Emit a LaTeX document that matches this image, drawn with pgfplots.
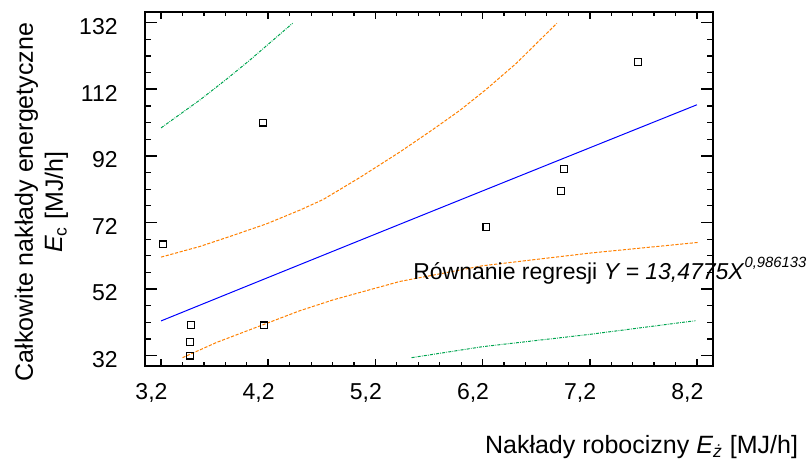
\documentclass[border=0pt]{standalone}
\usepackage{pgfplots}
\pgfplotsset{compat=1.18}
\usepackage{fontspec}
\setmainfont{Liberation Sans}
\definecolor{cblue}{RGB}{0,0,255}
\definecolor{corange}{RGB}{255,128,0}
\definecolor{cgreen}{RGB}{0,165,80}
\begin{document}
\begin{tikzpicture}
\useasboundingbox (-72.5pt,-46.5pt) rectangle (331pt,183pt);
\pgfplotsset{
  common/.style={
    at={(0,0)}, anchor=south west,
    scale only axis, width=284pt, height=177pt,
    xmin=3.05, xmax=8.35, ymin=28.9, ymax=135.2,
    axis line style={line width=1pt},
    tick align=inside,
    every tick/.style={black, line width=0.8pt},
    minor tick style={line width=0.6pt},
    /pgf/number format/assume math mode=true,
    tick label style={font=\fontsize{11.5}{13}\selectfont},
  }
}
% x ticks axis
\begin{axis}[common,
  xtick={3.2,4.2,5.2,6.2,7.2,8.2},
  xticklabels={{3,2},{4,2},{5,2},{6,2},{7,2},{8,2}},
  minor x tick num=4,
  ytick=\empty,
  major tick length=3.5pt, minor tick length=2pt,
  xticklabel style={anchor=north, inner sep=0pt, yshift=-8.5pt, xshift=-4.8pt},
  xlabel={Nakłady robocizny \textit{E}\textsubscript{\textit{ż}} [MJ/h]},
  xlabel style={at={(axis description cs:1.162,-0.2458)}, anchor=base east, font=\fontsize{12.5}{15}\selectfont},
]
\end{axis}
% main axis with y ticks and data
\begin{axis}[common,
  xtick=\empty,
  ytick={32,52,72,92,112,132},
  minor y tick num=3,
  major tick length=6pt, minor tick length=3pt,
  yticklabel style={anchor=east, inner sep=0pt, xshift=-13.5pt, yshift=-2pt},
  ylabel={Całkowite nakłady energetyczne\\\textit{E}\textsubscript{c} [MJ/h]},
  ylabel style={at={(axis description cs:-0.1822,0.463)}, anchor=center, align=center, font=\fontsize{12.5}{15}\selectfont},
  clip=false,
]
% regression line
\addplot[cblue, line width=0.5pt] coordinates {
(3.2,42.438) (3.6,47.664) (4.0,52.884) (4.4,58.095) (4.8,63.300) (5.2,68.499)
(5.6,73.693) (6.0,78.881) (6.4,84.065) (6.8,89.244) (7.2,94.418) (7.6,99.589)
(8.0,104.755) (8.2,107.338)};
% upper confidence
\addplot[corange, line width=0.5pt, dash pattern=on 1.6pt off 0.8pt] coordinates {
(3.2,61.6) (3.563,64.8) (3.87,68.1) (4.185,71.6) (4.495,75.7) (4.713,78.9)
(5.055,85.5) (5.43,93.2) (5.74,100.0) (5.99,105.7) (6.235,112.0) (6.515,119.8) (6.893,131.8)};
% lower confidence
\addplot[corange, line width=0.5pt, dash pattern=on 1.6pt off 0.8pt] coordinates {
(3.40,31.4) (3.72,36.0) (4.185,41.7) (4.495,45.5) (4.81,48.8) (5.43,54.3)
(6.20,59.0) (7.2,62.8) (8.21,66.0)};
% upper prediction
\addplot[cgreen, line width=0.5pt, dash pattern=on 1.5pt off 0.6pt on 0.4pt off 0.6pt] coordinates {
(3.2,100.4) (3.563,108.8) (3.81,115.0) (4.03,120.8) (4.427,131.8)};
% lower prediction
\addplot[cgreen, line width=0.5pt, dash pattern=on 1.5pt off 0.6pt on 0.4pt off 0.6pt] coordinates {
(5.537,31.4) (6.20,34.7) (7.2,38.4) (8.186,42.5)};
% observations
\addplot[only marks, mark=square, mark size=1.7pt, mark options={black, line width=0.6pt}] coordinates {
(3.22,65.4) (3.48,41.3) (3.47,36.1) (3.47,32.0) (4.16,41.1) (4.15,102.0)
(6.235,70.7) (6.93,81.5) (6.96,88.0) (7.65,120.2)};
\node[anchor=base west, inner sep=0pt, font=\fontsize{11.5}{13}\selectfont] at (axis cs:5.55,54.8)
  {Równanie regresji \textit{Y = 13,4775X}\raisebox{6pt}{\fontsize{7.4}{8}\selectfont\itshape 0,986133}};
\end{axis}
\end{tikzpicture}
\end{document}
